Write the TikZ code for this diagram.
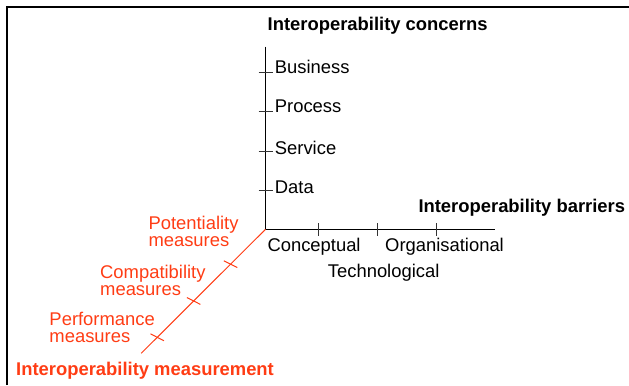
\documentclass[tikz,border=0pt]{standalone}
\usepackage{fontspec}
\setmainfont{Liberation Sans}
\definecolor{measred}{RGB}{255,60,20}
\begin{document}
\begin{tikzpicture}[x=1bp,y=-1bp,
  lbl/.style={inner sep=0pt, anchor=base west, font=\fontsize{18.4bp}{17bp}\selectfont},
  ttl/.style={lbl, font=\fontsize{18.4bp}{17bp}\selectfont\bfseries},
  mlbl/.style={lbl, text=measred, align=left},
  axisline/.style={line width=1bp, black},
  maxis/.style={line width=1bp, measred},
  tickmark/.style={line width=0.9bp, black!80}]
\useasboundingbox (0,0) rectangle (629,385);
% open frame along the top and left
\draw[line width=2bp] (7,385) -- (7,7) -- (629,7);

% axes
\coordinate (O) at (265.5,229.3);
\coordinate (Ytop) at (265.5,46.7);
\coordinate (Xend) at (495,229.3);
\coordinate (Zend) at (141.2,353.3);
\draw[axisline] (Ytop) -- (O) -- (Xend);
\draw[maxis] (O) -- (Zend);

% concern ticks on the vertical axis
\foreach \n/\yy in {tb/72.3, tp/111, ts/151, td/190} {
  \coordinate (\n) at (265.5,\yy);
  \draw[tickmark] ([xshift=-7bp]\n) -- ([xshift=7bp]\n);
}
% barrier ticks on the horizontal axis
\foreach \n/\xx in {bc/318.3, bt/377, bo/436} {
  \coordinate (\n) at (\xx,229.3);
  \draw[tickmark] ([yshift=-6.5bp]\n) -- ([yshift=6.5bp]\n);
}
% measurement ticks on the diagonal axis
\path (O) -- (Zend) coordinate[pos=0.281] (m1) coordinate[pos=0.578] (m2) coordinate[pos=0.871] (m3);
\foreach \n in {m1,m2,m3}
  \draw[maxis] ([shift={(-6.7,-3.4)}]\n) -- ([shift={(6.7,3.4)}]\n);

% titles
\node[ttl] (concerns) at (267.5,30.7) {Interoperability concerns};
\node[ttl] (barriers) at (418.3,212.7) {Interoperability barriers};
\node[ttl, text=measred] (measurement) at (16,375.3) {Interoperability measurement};

% concern labels
\node[lbl] (business) at (274.7,73.3) {Business};
\node[lbl] (process) at (274.7,112.3) {Process};
\node[lbl] (service) at (274.7,154.3) {Service};
\node[lbl] (data) at (274.7,193.3) {Data};

% barrier labels
\node[lbl] (conceptual) at (267.3,251.7) {Conceptual};
\node[lbl] (organisational) at (385,251.7) {Organisational};
\node[lbl] (technological) at (327.7,277.3) {Technological};

% measure labels (anchored on the baseline of the last line)
\node[mlbl] (potentiality) at (148.3,246.7) {Potentiality\\measures};
\node[mlbl] (compatibility) at (100,295) {Compatibility\\measures};
\node[mlbl] (performance) at (49.3,342.7) {Performance\\measures};
\end{tikzpicture}
\end{document}
